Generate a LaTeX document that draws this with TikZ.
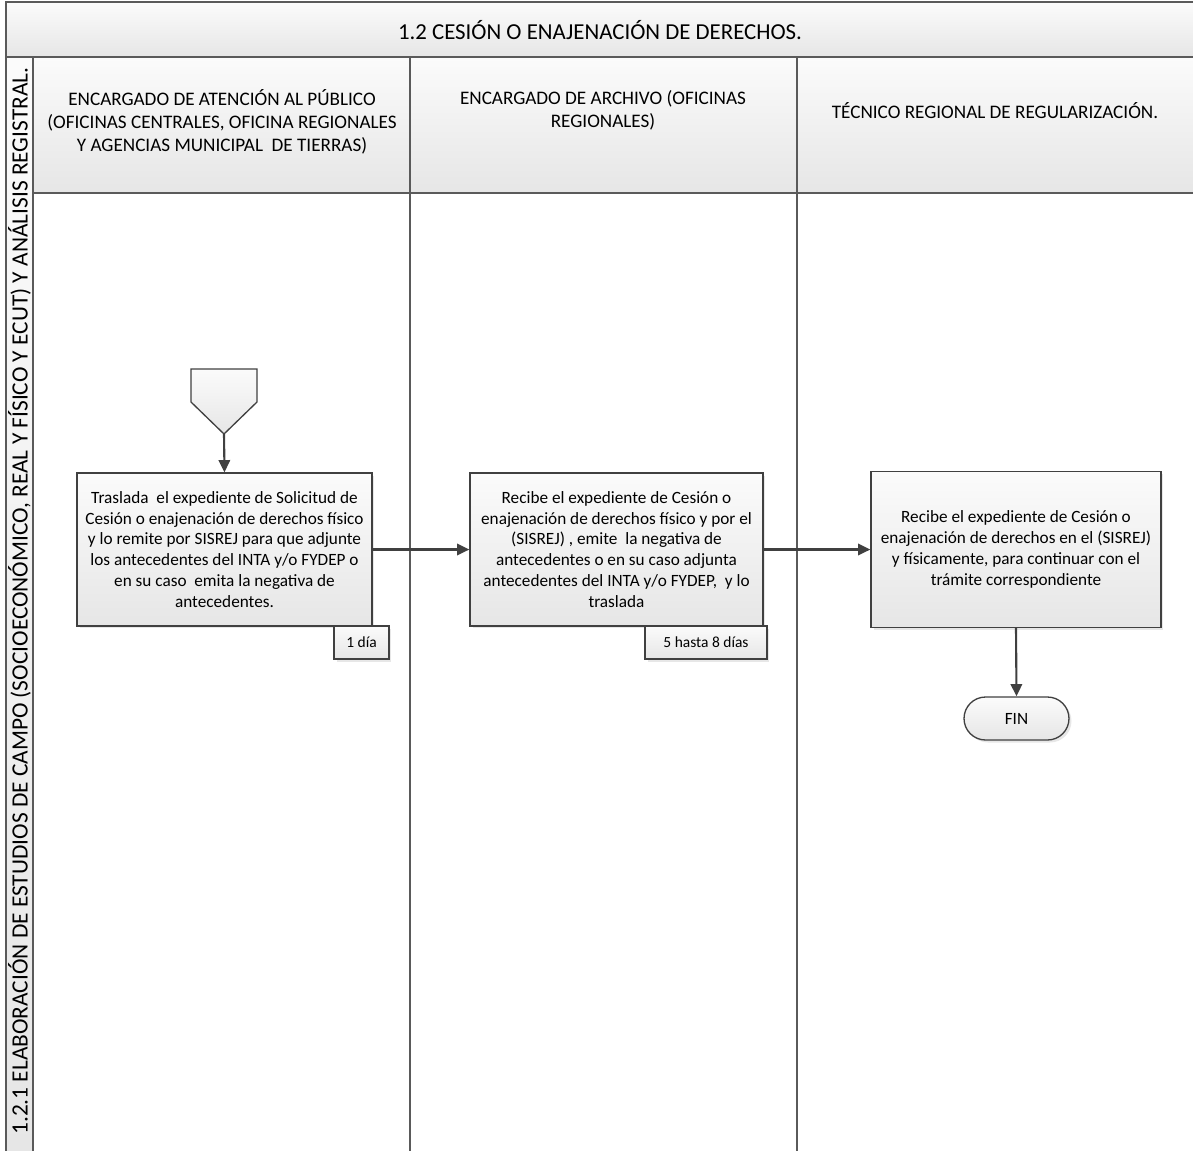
\documentclass[tikz,border=0pt]{standalone}
\usepackage{fontspec}
\setmainfont{Carlito}
\usetikzlibrary{arrows.meta,shadows}
\definecolor{lineagris}{HTML}{404040}
\definecolor{bordegris}{HTML}{5A5A5A}
\definecolor{rellenoclaro}{HTML}{FBFBFB}
\definecolor{rellenogris}{HTML}{E6E6E6}
\definecolor{sombragris}{HTML}{CFCFCF}

\begin{document}
\begin{tikzpicture}[x=0.02cm, y=-0.02cm, line width=0.75pt, >={Triangle[length=7pt,width=6.5pt]},
  encabezado/.style={draw=bordegris, top color=rellenoclaro, bottom color=rellenogris},
  proceso/.style={draw=lineagris, top color=rellenoclaro, bottom color=rellenogris,
    drop shadow={shadow xshift=0.05cm, shadow yshift=-0.05cm, fill=sombragris},
    align=center, inner sep=0pt, font=\fontsize{9.8}{11.9}\selectfont},
  tiempo/.style={proceso, font=\fontsize{8.8}{10.6}\selectfont},
  terminal/.style={proceso, rounded corners=0.43cm, font=\fontsize{9.8}{11.9}\selectfont},
  flecha/.style={draw=lineagris, line width=1.2pt, ->}]
  \clip (0,0) rectangle (1193,1150);

  \draw[encabezado] (6,2) rectangle (1200,57);
  \draw[encabezado] (33,57) rectangle (410,193);
  \draw[encabezado] (410,57) rectangle (797,193);
  \draw[encabezado] (797,57) rectangle (1200,193);
  \draw[encabezado] (6,57) rectangle (33,1160);
  \draw[bordegris] (410,193) -- (410,1160);
  \draw[bordegris] (797,193) -- (797,1160);

  \node[font=\fontsize{13}{16}\selectfont] (titulo) at (600,30) {1.2 CESIÓN O ENAJENACIÓN DE DERECHOS.};
  \node[rotate=90, font=\fontsize{13.3}{16}\selectfont] (etapa) at (19.5,601)
    {1.2.1 ELABORACIÓN DE ESTUDIOS DE CAMPO (SOCIOECONÓMICO, REAL Y FÍSICO Y ECUT) Y ANÁLISIS REGISTRAL.};
  \node[align=center, font=\fontsize{10.9}{13}\selectfont] (carril1) at (222,122)
    {ENCARGADO DE ATENCIÓN AL PÚBLICO\\(OFICINAS CENTRALES, OFICINA REGIONALES\\Y AGENCIAS MUNICIPAL\ \ DE TIERRAS)};
  \node[align=center, font=\fontsize{10.9}{13}\selectfont] (carril2) at (603,110)
    {ENCARGADO DE ARCHIVO (OFICINAS\\REGIONALES)};
  \node[align=center, font=\fontsize{10.9}{13}\selectfont] (carril3) at (995,111)
    {TÉCNICO REGIONAL DE REGULARIZACIÓN.};

  \draw[draw=lineagris, top color=rellenoclaro, bottom color=rellenogris]
    (191,369) -- (257,369) -- (257,402) -- (224,434) -- (191,402) -- cycle;
  \coordinate (inicio) at (224,434);

  \node[proceso, minimum width=5.9cm, minimum height=3.06cm] (traslada) at (224.5,549.5)
    {Traslada\ \ el expediente de Solicitud de\\Cesión o enajenación de derechos físico\\y lo remite por SISREJ para que adjunte\\los antecedentes del INTA y/o FYDEP o\\en su caso\ \ emita la negativa de\\antecedentes.};
  \node[tiempo, minimum width=1.1cm, minimum height=0.66cm] (dias1) at (361.5,642.5) {1 día};

  \node[proceso, minimum width=5.86cm, minimum height=3.06cm] (recibe) at (616.5,549.5)
    {Recibe el expediente de Cesión o\\enajenación de derechos físico y por el\\(SISREJ) , emite\ \ la negativa de\\antecedentes o en su caso adjunta\\antecedentes del INTA y/o FYDEP,\ \ y lo\\traslada};
  \node[tiempo, minimum width=2.44cm, minimum height=0.66cm] (dias2) at (706,642.5) {5 hasta 8 días};

  \node[proceso, minimum width=5.8cm, minimum height=3.12cm] (tecnico) at (1016,549.5)
    {Recibe el expediente de Cesión o\\enajenación de derechos en el (SISREJ)\\y físicamente, para continuar con el\\trámite correspondiente};
  \node[terminal, minimum width=2.1cm, minimum height=0.86cm] (fin) at (1016.5,718.5) {FIN};

  \draw[flecha] (inicio) -- (traslada.north);
  \draw[flecha] (traslada.east) -- (recibe.west);
  \draw[flecha] (recibe.east) -- (tecnico.west);
  \draw[flecha] (tecnico.south) -- (fin.north);
\end{tikzpicture}
\end{document}
